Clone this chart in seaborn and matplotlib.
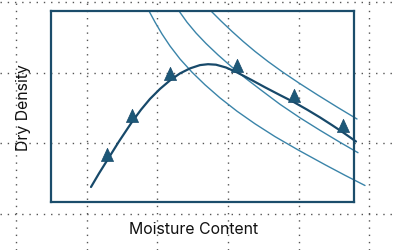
import numpy as np
import pandas as pd
import matplotlib
matplotlib.use("Agg")
import matplotlib.pyplot as plt
from matplotlib.path import Path
import seaborn as sns

# ---- data (arbitrary units) ----
curve_moisture = [4.0, 4.8, 5.6, 6.8, 8.1, 9.0, 9.9, 10.9, 11.9, 12.9, 13.9, 14.9,
                  15.7, 16.5, 17.5, 18.6, 20.0, 21.4, 22.9, 24.3, 25.6, 26.9,
                  28.1, 29.2, 30.5]
curve_density = [1.5, 2.86, 4.14, 6.06, 8.01, 9.23, 10.31, 11.31, 12.16, 12.86,
                 13.36, 13.69, 13.78, 13.73, 13.45, 12.96, 12.23, 11.47, 10.69,
                 9.98, 9.24, 8.46, 7.69, 6.96, 6.05]

test_moisture = [5.6, 8.1, 11.9, 18.6, 24.3, 29.2]
test_density = [4.14, 8.01, 12.16, 12.96, 9.98, 6.96]

zav1_moisture = [9.8, 10.4, 11.1, 11.9, 12.9, 14.1, 15.4, 16.9, 18.6, 20.4, 22.4,
                 24.7, 27.4, 29.4, 31.4]
zav1_density = [19.1, 17.99, 16.8, 15.6, 14.3, 12.98, 11.72, 10.41, 9.08, 7.82,
                6.54, 5.21, 3.73, 2.67, 1.65]
zav2_moisture = [12.8, 13.6, 14.5, 15.5, 16.7, 18.0, 19.5, 21.1, 22.9, 24.9, 26.9,
                 28.9, 30.7]
zav2_density = [19.1, 17.98, 16.9, 15.85, 14.71, 13.57, 12.34, 11.12, 9.77, 8.42,
                7.17, 5.97, 4.93]
zav3_moisture = [16.0, 17.0, 18.1, 19.2, 20.4, 21.7, 23.2, 24.9, 26.7, 28.7, 30.6]
zav3_density = [19.1, 18.1, 17.06, 16.07, 15.06, 14.05, 12.97, 11.83, 10.68, 9.44,
                8.3]

x_label = "Moisture Content"
y_label = "Dry Density"

# ---- style ----
sns.set_theme(style="white")
plt.rcParams["font.family"] = ["Inter", "DejaVu Sans"]

frame_col = "#1b4d6b"
curve_col = "#17496a"
marker_col = "#1d5878"
zav_col = "#3a84a9"
grid_col = "#555555"

W, H = 395, 250
fig = plt.figure(figsize=(W / 100, H / 100), dpi=100)

# background dotted grid across the whole figure
bg = fig.add_axes([0, 0, 1, 1])
bg.set_xlim(0, W)
bg.set_ylim(H, 0)
bg.set_xticks([16, 86.7, 157.3, 228, 298.7, 369.3])
bg.set_yticks([2.3, 72.8, 143.3, 213.8])
bg.grid(True, color=grid_col, linestyle=(0, (1, 4.2)), linewidth=1.0)
bg.tick_params(length=0, labelbottom=False, labelleft=False)
for s in bg.spines.values():
    s.set_visible(False)
bg.set_facecolor("white")

# main framed axes
ax = fig.add_axes([51 / W, (H - 202) / H, 303 / W, 191 / H])
ax.patch.set_alpha(0)
ax.set_xlim(0, 30.3)
ax.set_ylim(0, 19.1)
ax.set_xticks([])
ax.set_yticks([])
for s in ax.spines.values():
    s.set_color(frame_col)
    s.set_linewidth(1.6)
ax.grid(False)

for xm, yd in [(zav1_moisture, zav1_density), (zav2_moisture, zav2_density),
               (zav3_moisture, zav3_density)]:
    sns.lineplot(x=xm, y=yd, ax=ax, sort=False, estimator=None, color=zav_col,
                 linewidth=1.0, clip_on=False, zorder=2)

sns.lineplot(x=curve_moisture, y=curve_density, ax=ax, sort=False, estimator=None,
             color=curve_col, linewidth=1.6, clip_on=False, zorder=3)

tri = Path([(-0.46, 0), (0.46, 0), (0, 1), (-0.46, 0)],
           [Path.MOVETO, Path.LINETO, Path.LINETO, Path.CLOSEPOLY])
sns.scatterplot(x=test_moisture, y=test_density, ax=ax, marker=tri, s=360,
                color=marker_col, edgecolor=curve_col, linewidth=0.5,
                zorder=4, clip_on=False)

ax.set_xlabel("")
ax.set_ylabel("")

fig.text(193.5 / W, 1 - 230 / H, x_label, ha="center", va="center",
         fontsize=11.4, color="#111111")
fig.text(24 / W, 1 - 107.5 / H, y_label, ha="center", va="center",
         rotation=90, fontsize=11.4, color="#111111")

fig.savefig("out.png", dpi=100)
